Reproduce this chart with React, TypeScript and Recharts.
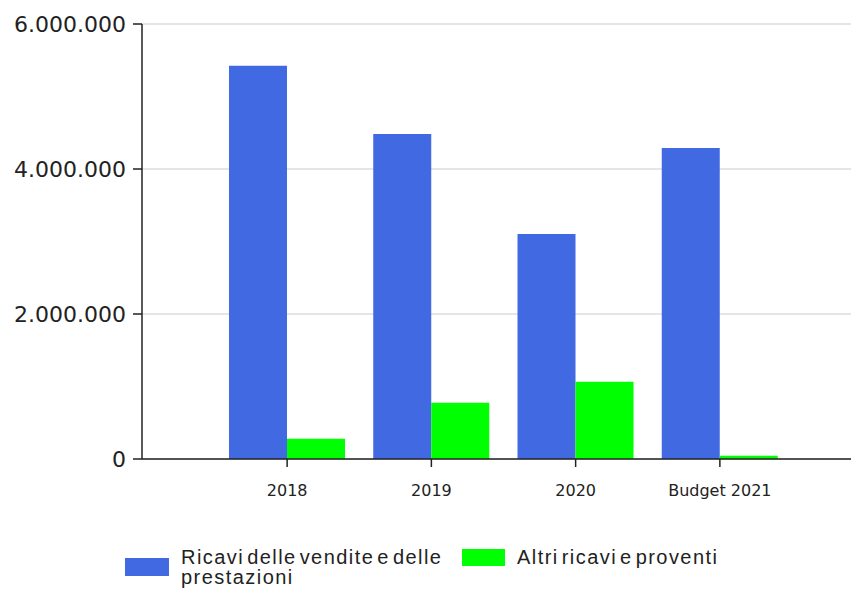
import React from "react";
import { BarChart, Bar, XAxis, YAxis, CartesianGrid, Legend } from "recharts";

const categories = ["2018", "2019", "2020", "Budget 2021"];
const ricaviVendite = [5425000, 4483000, 3103000, 4290000];
const altriRicavi = [280000, 777000, 1066000, 45000];
const yTicks = [0, 2000000, 4000000, 6000000];

const series = [
	{ key: "vendite", name: "Ricavi delle vendite e delle prestazioni", color: "#4169E1" },
	{ key: "altri", name: "Altri ricavi e proventi", color: "#00FF00" },
];

const data = categories.map((c, i) => ({
	name: c,
	vendite: ricaviVendite[i],
	altri: altriRicavi[i],
}));

const fmt = (v: number) => String(v).replace(/\B(?=(\d{3})+(?!\d))/g, ".");

const LegendContent = () => (
	<div style={{ display: "flex", alignItems: "flex-start", fontFamily: "'Liberation Sans', Arial, sans-serif", fontSize: 20, lineHeight: "20px", color: "#222", letterSpacing: 1.45, wordSpacing: -4 }}>
		<div style={{ display: "flex", alignItems: "center" }}>
			<div style={{ width: 44, height: 18, background: series[0].color, marginRight: 12 }} />
			<div style={{ width: 275 }}>{series[0].name}</div>
		</div>
		<div style={{ display: "flex", alignItems: "center", marginLeft: 6 }}>
			<div style={{ width: 43, height: 17, background: series[1].color, marginRight: 12 }} />
			<div style={{ whiteSpace: "nowrap" }}>{series[1].name}</div>
		</div>
	</div>
);

export default function App() {
	return (
		<div style={{ width: 851, height: 581, background: "#fff" }}>
			<BarChart
				width={851}
				height={581}
				data={data}
				margin={{ top: 16, right: 0, left: 0, bottom: 70 }}
				barCategoryGap={14}
				barGap={0}
			>
				<CartesianGrid vertical={false} stroke="#dcdcdc" strokeWidth={1.5} />
				<XAxis
					dataKey="name"
					height={60}
					padding={{ left: 73, right: 67 }}
					tickSize={8}
					tickMargin={18}
					stroke="#222"
					tick={{ fill: "#222", fontSize: 16, fontFamily: "'DejaVu Sans', sans-serif" }}
					axisLine={{ stroke: "#222", strokeWidth: 1.5 }}
					tickLine={{ stroke: "#222", strokeWidth: 1.5 }}
				/>
				<YAxis
					width={134}
					domain={[0, 6000000]}
					ticks={yTicks}
					tickFormatter={fmt}
					tickSize={9}
					tickMargin={7}
					tick={{ fill: "#222", fontSize: 22, fontFamily: "'DejaVu Sans', sans-serif" }}
					axisLine={{ stroke: "#222", strokeWidth: 1.5 }}
					tickLine={{ stroke: "#222", strokeWidth: 1.5 }}
				/>
				<Legend
					layout="horizontal"
					verticalAlign="middle"
					align="center"
					content={<LegendContent />}
					wrapperStyle={{ top: 539, left: 117, width: "auto" }}
				/>
				{series.map((s) => (
					<Bar key={s.key} dataKey={s.key} name={s.name} fill={s.color} isAnimationActive={false} />
				))}
			</BarChart>
		</div>
	);
}
